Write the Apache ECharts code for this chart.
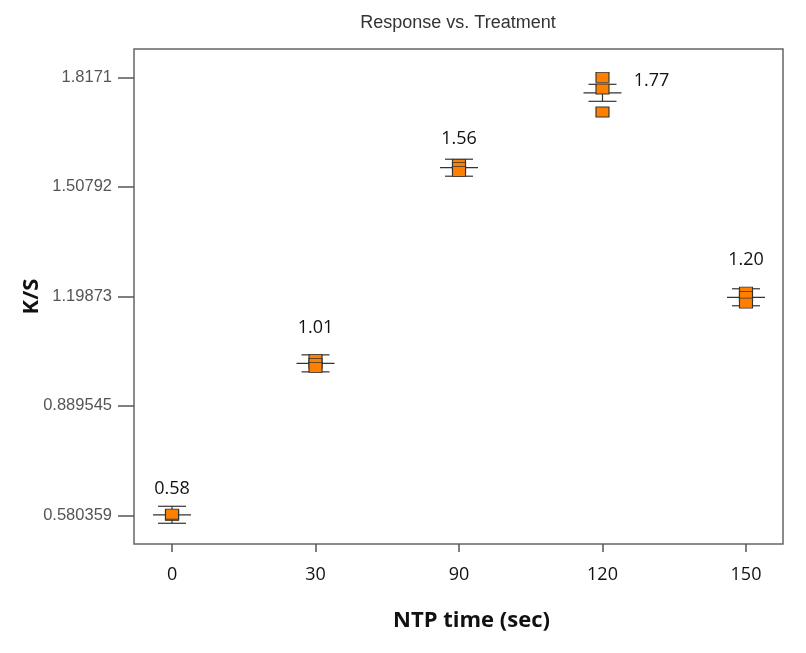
<!DOCTYPE html>
<html><head><meta charset="utf-8">
<script src="https://cdn.jsdelivr.net/npm/echarts@6/dist/echarts.min.js"></script>
<style>html,body{margin:0;padding:0;background:#fff}#c{width:806px;height:653px}</style>
</head><body><div id="c"></div>
<script>
// ---- data ----
const categories = ['0', '30', '90', '120', '150'];
const obs0   = [0.580359, 0.5815, 0.5835];
const obs30  = [1.0208, 1.0095, 0.998];
const obs90  = [1.5713, 1.5628, 1.5515];
const obs120 = [1.8171, 1.784, 1.7191];
const obs150 = [1.2105, 1.198, 1.1795];
const meanValues = [0.5818, 1.0094, 1.5619, 1.7734, 1.1960];
const meanLabels = ['0.58', '1.01', '1.56', '1.77', '1.20'];
const lsdLow  = [0.5578, 0.9854, 1.5379, 1.7494, 1.1720];
const lsdHigh = [0.6058, 1.0334, 1.5859, 1.7974, 1.2200];
const yTickValues = [0.580359, 0.889545, 1.19873, 1.50792, 1.8171];
const yTickLabels = ['0.580359', '0.889545', '1.19873', '1.50792', '1.8171'];

// label placement (pixels, layout only)
const labelDx = [0, 0, 0, 49, 0];
const labelDy = [-26, -35, -29, -12, -37];

const groups = [obs0, obs30, obs90, obs120, obs150];
const pointData = [];
groups.forEach((g, i) => g.forEach(v => pointData.push([i, v])));
const barData = categories.map((c, i) => [i, meanValues[i], lsdLow[i], lsdHigh[i]]);

const chart = echarts.init(document.getElementById('c'));
chart.setOption({
  animation: false,
  backgroundColor: '#fff',
  title: {
    text: 'Response vs. Treatment', left: 453, top: 9, textAlign: 'center',
    textStyle: { fontFamily: 'Liberation Sans', fontSize: 18, fontWeight: 'normal', color: '#333' }
  },
  grid: { left: 134, right: 23, top: 49, bottom: 109, show: true, borderColor: '#666', borderWidth: 1.5 },
  xAxis: {
    type: 'value', min: -0.265, max: 4.258,
    name: 'NTP time (sec)', nameLocation: 'middle', nameGap: 66,
    nameTextStyle: { fontFamily: 'Open Sans', fontSize: 22, fontWeight: 'bold', color: '#111', padding: [0, 0, 0, 26] },
    axisLine: { show: false, onZero: false },
    splitLine: { show: false },
    axisTick: { show: true, length: 8, customValues: [0, 1, 2, 3, 4], lineStyle: { color: '#555', width: 1.5 } },
    axisLabel: {
      customValues: [0, 1, 2, 3, 4], margin: 22,
      formatter: v => categories[Math.round(v)],
      fontFamily: 'Open Sans', fontSize: 18, color: '#111'
    }
  },
  yAxis: {
    type: 'value', min: 0.4993, max: 1.8971,
    name: 'K/S', nameLocation: 'middle', nameGap: 91, nameRotate: 90, nameMoveOverlap: false,
    nameTextStyle: { fontFamily: 'Open Sans', fontSize: 22, fontWeight: 'bold', color: '#111' },
    axisLine: { show: false, onZero: false },
    splitLine: { show: false },
    axisTick: { show: true, length: 16, customValues: yTickValues, lineStyle: { color: '#555', width: 1.5 } },
    axisLabel: {
      customValues: yTickValues, margin: 22,
      formatter: v => { let k = 0, d = 1e9; yTickValues.forEach((t, i) => { if (Math.abs(t - v) < d) { d = Math.abs(t - v); k = i; } }); return yTickLabels[k]; },
      fontFamily: 'Liberation Sans', fontSize: 16.5, color: '#555'
    }
  },
  series: [
    {
      type: 'custom',
      data: barData,
      z: 2,
      renderItem: (params, api) => {
        const i = api.value(0);
        const pm = api.coord([i, api.value(1)]);
        const pl = api.coord([i, api.value(2)]);
        const ph = api.coord([i, api.value(3)]);
        const st = { stroke: '#333', lineWidth: 1.2 };
        return {
          type: 'group',
          children: [
            { type: 'line', shape: { x1: pm[0], y1: ph[1], x2: pm[0], y2: pl[1] }, style: st },
            { type: 'line', shape: { x1: pm[0] - 14, y1: ph[1], x2: pm[0] + 14, y2: ph[1] }, style: st },
            { type: 'line', shape: { x1: pm[0] - 14, y1: pl[1], x2: pm[0] + 14, y2: pl[1] }, style: st },
            { type: 'line', shape: { x1: pm[0] - 19, y1: pm[1], x2: pm[0] + 19, y2: pm[1] }, style: st },
            { type: 'text', z2: 10, style: {
                text: meanLabels[params.dataIndex],
                x: pm[0] + labelDx[params.dataIndex], y: pm[1] + labelDy[params.dataIndex],
                align: 'center', verticalAlign: 'middle',
                fontFamily: 'Open Sans', fontSize: 18, fill: '#111' } }
          ]
        };
      }
    },
    {
      type: 'scatter',
      data: pointData,
      z: 3,
      symbol: 'rect',
      symbolSize: [13, 10],
      itemStyle: { color: '#FF8000', borderColor: '#333', borderWidth: 1, opacity: 1 }
    }
  ]
});
</script></body></html>
